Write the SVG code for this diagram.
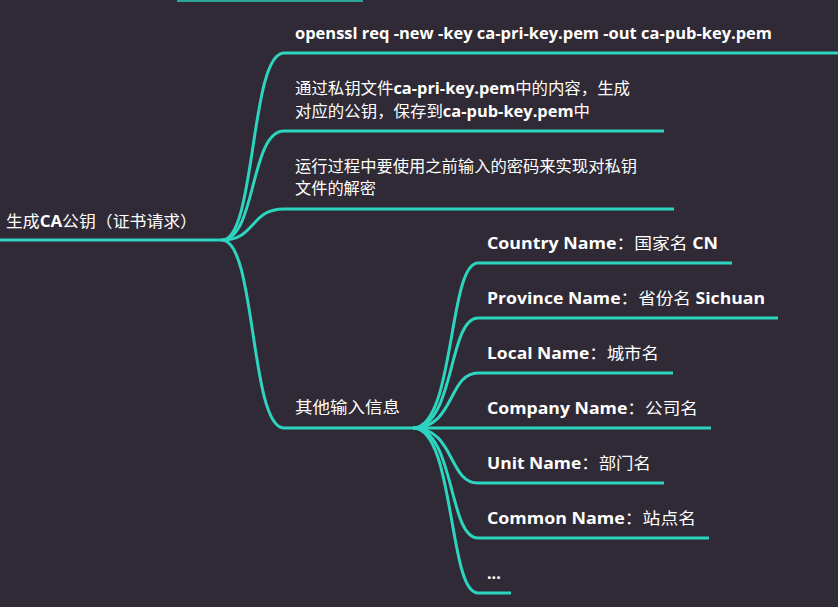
<svg xmlns="http://www.w3.org/2000/svg" width="838" height="607" viewBox="0 0 838 607">
<style>
.bg{fill:#2f2a35}
.c{fill:none;stroke:#2dd4bf;stroke-width:3;stroke-linecap:butt}
text{font-family:"Open Sans","Noto Sans CJK SC",sans-serif;font-size:16px;fill:#ffffff}
.b{font-weight:bold}
</style>
<rect class="bg" x="0" y="0" width="838" height="607"/>
<rect x="177" y="0" width="186" height="2" fill="#2aa597"/>
<g id="connectors">
<path class="c" d="M0,240 H222"/>
<path class="c" d="M222,240 C256,240 250,53 284,53 H838"/>
<path class="c" d="M222,240 C256,240 250,131 284,131 H664"/>
<path class="c" d="M222,240 C256,240 250,209 284,209 H674"/>
<path class="c" d="M222,240 C256,240 250,428 284,428 H413"/>
<path class="c" d="M413,428 C455,428 448,263 478,263 H732"/>
<path class="c" d="M413,428 C455,428 448,318 478,318 H778"/>
<path class="c" d="M413,428 C455,428 448,373 478,373 H673"/>
<path class="c" d="M413,428 H711"/>
<path class="c" d="M413,428 C455,428 448,483 478,483 H664"/>
<path class="c" d="M413,428 C455,428 448,538 478,538 H709"/>
<path class="c" d="M413,428 C455,428 448,593 478,593 H511"/>
</g>
<g id="root"><text x="6" y="227" textLength="191" lengthAdjust="spacingAndGlyphs">生成<tspan class="b">CA</tspan>公钥（证书请求）</text></g>
<g id="n1"><text x="295" y="39" class="b" textLength="477" lengthAdjust="spacingAndGlyphs">openssl req -new -key ca-pri-key.pem -out ca-pub-key.pem</text></g>
<g id="n2">
<text x="295" y="94" textLength="335" lengthAdjust="spacingAndGlyphs">通过私钥文件<tspan class="b">ca-pri-key.pem</tspan>中的内容，生成</text>
<text x="295" y="117" textLength="295" lengthAdjust="spacingAndGlyphs">对应的公钥，保存到<tspan class="b">ca-pub-key.pem</tspan>中</text>
</g>
<g id="n3">
<text x="295" y="172" textLength="342" lengthAdjust="spacingAndGlyphs">运行过程中要使用之前输入的密码来实现对私钥</text>
<text x="295" y="194" textLength="81" lengthAdjust="spacingAndGlyphs">文件的解密</text>
</g>
<g id="n4"><text x="295" y="413" textLength="105" lengthAdjust="spacingAndGlyphs">其他输入信息</text></g>
<g id="n5"><text x="487" y="249" textLength="231" lengthAdjust="spacingAndGlyphs"><tspan class="b">Country Name</tspan>：国家名 <tspan class="b"> CN</tspan></text></g>
<g id="n6"><text x="487" y="304" textLength="278" lengthAdjust="spacingAndGlyphs"><tspan class="b">Province Name</tspan>：省份名 <tspan class="b">Sichuan</tspan></text></g>
<g id="n7"><text x="487" y="359" textLength="172" lengthAdjust="spacingAndGlyphs"><tspan class="b">Local Name</tspan>：城市名</text></g>
<g id="n8"><text x="487" y="414" textLength="211" lengthAdjust="spacingAndGlyphs"><tspan class="b">Company Name</tspan>：公司名</text></g>
<g id="n9"><text x="487" y="469" textLength="164" lengthAdjust="spacingAndGlyphs"><tspan class="b">Unit Name</tspan>：部门名</text></g>
<g id="n10"><text x="487" y="524" textLength="209" lengthAdjust="spacingAndGlyphs"><tspan class="b">Common Name</tspan>：站点名</text></g>
<g id="n11"><text x="487" y="579" class="b">...</text></g>
</svg>
